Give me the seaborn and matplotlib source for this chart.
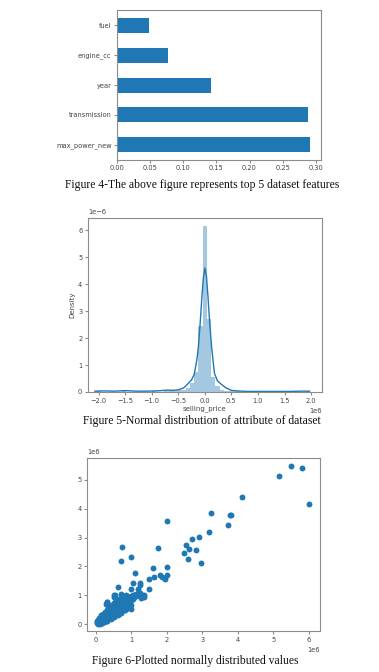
import numpy as np
import pandas as pd
import matplotlib
matplotlib.use("Agg")
import matplotlib.pyplot as plt
import seaborn as sns

# top 5 features (feature importances)
features = ["fuel", "engine_cc", "year", "transmission", "max_power_new"]
importances = [0.048, 0.077, 0.142, 0.289, 0.292]

# selling_price distribution, x in 1e6, density in 1e-6
hist_centers = [-2.0, -1.52, -0.96, -0.72, -0.64, -0.56, -0.48, -0.40, -0.32, -0.24,
                -0.16, -0.08, 0.0, 0.08, 0.16, 0.24, 0.32, 0.40, 0.48, 0.56,
                0.64, 0.96, 1.52, 1.92]
hist_heights = [0.02, 0.02, 0.02, 0.03, 0.03, 0.04, 0.06, 0.08, 0.15, 0.35,
                0.75, 2.45, 6.15, 2.71, 0.55, 0.22, 0.09, 0.05, 0.03, 0.02,
                0.02, 0.01, 0.01, 0.02]
kde_x = [-2.07, -1.9, -1.7, -1.5, -1.3, -1.1, -0.9, -0.7, -0.6, -0.5, -0.4, -0.32,
         -0.25, -0.2, -0.15, -0.12, -0.09, -0.06, -0.03, 0.0, 0.03, 0.06, 0.09,
         0.13, 0.18, 0.24, 0.3, 0.4, 0.5, 0.6, 0.8, 1.0, 1.2, 1.4, 1.6, 1.8, 1.97]
kde_y = [0.03, 0.04, 0.03, 0.05, 0.03, 0.03, 0.04, 0.07, 0.06, 0.08, 0.15, 0.3,
         0.45, 0.65, 1.2, 1.7, 2.5, 3.4, 4.2, 4.6, 4.3, 3.5, 2.6,
         1.6, 0.7, 0.4, 0.3, 0.15, 0.06, 0.04, 0.02, 0.02, 0.02, 0.02, 0.02, 0.03, 0.03]

# actual vs predicted prices, in 1e6
sc_x = [0.03, 0.05, 0.06, 0.08, 0.10, 0.04, 0.07, 0.10, 0.12, 0.13, 0.15, 0.15, 0.17, 0.18,
        0.20, 0.20, 0.22, 0.23, 0.25, 0.25, 0.27, 0.28, 0.30, 0.30, 0.32, 0.33, 0.35, 0.35,
        0.37, 0.38, 0.40, 0.40, 0.42, 0.43, 0.45, 0.45, 0.47, 0.48, 0.50, 0.50, 0.52, 0.53,
        0.55, 0.55, 0.57, 0.58, 0.60, 0.60, 0.62, 0.63, 0.65, 0.65, 0.67, 0.68, 0.70, 0.70,
        0.72, 0.73, 0.75, 0.75, 0.77, 0.78, 0.80, 0.80, 0.82, 0.83, 0.85, 0.85, 0.87, 0.88,
        0.90, 0.90, 0.92, 0.95, 0.95, 0.97, 1.00, 1.00, 1.02, 1.05, 1.05, 1.08, 1.10, 1.12,
        1.15, 1.20, 1.25, 1.30, 1.35,
        0.02, 0.06, 0.09, 0.11, 0.14, 0.16, 0.19, 0.21, 0.24, 0.26, 0.29, 0.31, 0.34, 0.36,
        0.39, 0.41, 0.44, 0.46, 0.49, 0.51, 0.54, 0.56, 0.59, 0.61, 0.64, 0.66, 0.69, 0.71,
        0.74, 0.76, 0.79, 0.81, 0.84, 0.86, 0.89, 0.93, 0.96, 0.99, 1.03, 1.07, 1.12,
        0.10, 0.15, 0.20, 0.25, 0.30, 0.35, 0.40, 0.45, 0.50, 0.55, 0.60, 0.65, 0.70, 0.75,
        0.80, 0.85, 0.18, 0.28, 0.38, 0.48, 0.58, 0.68, 0.78, 0.88, 0.98, 0.25, 0.35, 0.45,
        0.55, 0.65, 0.12, 0.22, 0.32, 0.42, 0.52, 0.62, 0.72, 0.82, 0.92,
        0.30, 0.28, 0.50, 0.55, 0.70, 0.90, 0.98, 0.45, 0.62, 0.75, 0.40, 0.60, 1.18, 1.28,
        5.49, 5.80, 5.16, 6.00, 4.11, 3.25, 3.80, 3.78, 2.00, 3.73, 3.20, 2.71, 2.91, 0.74,
        1.75, 2.55, 2.62, 2.82, 2.47, 2.60, 2.95, 1.00, 0.71, 1.61, 2.00, 1.10, 1.80, 2.00,
        1.86, 1.65, 1.51, 1.94, 0.62, 1.05, 1.24, 1.25, 1.50, 0.98, 1.35, 0.50, 0.32]
sc_y = [0.05, 0.04, 0.08, 0.06, 0.10, 0.12, 0.14, 0.05, 0.09, 0.14, 0.10, 0.18, 0.13, 0.20,
        0.15, 0.25, 0.12, 0.20, 0.17, 0.28, 0.23, 0.32, 0.20, 0.27, 0.35, 0.24, 0.30, 0.40,
        0.27, 0.36, 0.32, 0.45, 0.38, 0.28, 0.42, 0.50, 0.35, 0.46, 0.40, 0.55, 0.48, 0.35,
        0.45, 0.60, 0.52, 0.40, 0.50, 0.65, 0.58, 0.45, 0.55, 0.70, 0.62, 0.50, 0.60, 0.75,
        0.67, 0.55, 0.65, 0.80, 0.72, 0.60, 0.70, 0.85, 0.77, 0.62, 0.75, 0.90, 0.80, 0.68,
        0.78, 0.93, 0.85, 0.80, 0.95, 0.88, 0.85, 0.98, 0.92, 0.88, 1.00, 0.95, 1.02, 0.97,
        1.05, 1.00, 1.08, 1.02, 0.95,
        0.08, 0.02, 0.12, 0.07, 0.16, 0.08, 0.17, 0.20, 0.22, 0.19, 0.25, 0.30, 0.33, 0.34,
        0.40, 0.35, 0.40, 0.45, 0.50, 0.44, 0.52, 0.50, 0.56, 0.60, 0.62, 0.60, 0.68, 0.70,
        0.72, 0.68, 0.78, 0.80, 0.82, 0.85, 0.88, 0.90, 0.92, 0.93, 0.97, 1.02, 1.06,
        0.22, 0.30, 0.36, 0.42, 0.48, 0.55, 0.62, 0.66, 0.72, 0.78, 0.82, 0.86, 0.90, 0.95,
        0.98, 1.00, 0.05, 0.12, 0.20, 0.28, 0.33, 0.40, 0.48, 0.55, 0.65, 0.40, 0.48, 0.58,
        0.68, 0.78, 0.02, 0.06, 0.12, 0.18, 0.25, 0.32, 0.40, 0.48, 0.58,
        0.78, 0.68, 0.95, 1.02, 1.05, 0.55, 0.52, 0.30, 0.38, 0.48, 0.60, 0.85, 1.20, 0.90,
        5.50, 5.41, 5.15, 4.18, 4.40, 3.85, 3.80, 3.77, 3.58, 3.43, 3.19, 2.95, 3.01, 2.66,
        2.65, 2.74, 2.60, 2.56, 2.47, 2.25, 2.11, 2.33, 2.18, 1.94, 1.99, 1.77, 1.72, 1.71,
        1.63, 1.62, 1.56, 1.55, 1.28, 1.41, 1.41, 1.35, 1.22, 1.23, 1.00, 1.00, 0.75]

blue = "#1f77b4"
frame = "#8c8c8c"
txt = "#444444"

plt.rcParams["font.family"] = ["DejaVu Sans"]
plt.rcParams["axes.edgecolor"] = frame
plt.rcParams["axes.linewidth"] = 0.8
plt.rcParams["xtick.color"] = frame
plt.rcParams["ytick.color"] = frame
plt.rcParams["xtick.labelcolor"] = txt
plt.rcParams["ytick.labelcolor"] = txt
plt.rcParams["xtick.labelsize"] = 4.8
plt.rcParams["ytick.labelsize"] = 4.8
plt.rcParams["xtick.major.size"] = 2
plt.rcParams["ytick.major.size"] = 2
plt.rcParams["xtick.major.pad"] = 2
plt.rcParams["ytick.major.pad"] = 2
plt.rcParams["axes.labelsize"] = 5
plt.rcParams["axes.labelcolor"] = txt

fig = plt.figure(figsize=(3.79, 6.72), dpi=100)

# Figure 4 - feature importances
ax1 = fig.add_axes([0.309, 0.762, 0.538, 0.223])
df_feat = pd.DataFrame({"feature": features, "importance": importances})
sns.barplot(data=df_feat, x="importance", y="feature", order=features, orient="h",
            color=blue, saturation=1, width=0.5, ax=ax1)
ax1.set_xlim(0, 0.308)
ax1.set_xticks([0.0, 0.05, 0.10, 0.15, 0.20, 0.25, 0.30])
ax1.set_xticklabels(["0.00", "0.05", "0.10", "0.15", "0.20", "0.25", "0.30"])
ax1.set_xlabel("")
ax1.set_ylabel("")

# Figure 5 - distribution
ax2 = fig.add_axes([0.232, 0.4167, 0.617, 0.259])
sns.histplot(x=np.array(hist_centers) * 1e6, weights=np.array(hist_heights) * 1e-6,
             binwidth=0.08e6, binrange=(-2.04e6, 2.04e6), color=blue, alpha=0.4,
             linewidth=0, ax=ax2)
sns.lineplot(x=np.array(kde_x) * 1e6, y=np.array(kde_y) * 1e-6, color=blue, lw=1, ax=ax2)
ax2.set_xlim(-2.2e6, 2.2e6)
ax2.set_ylim(0, 6.46e-6)
ax2.set_xticks(np.arange(-2.0, 2.01, 0.5) * 1e6)
ax2.set_xlabel("selling_price", labelpad=1)
ax2.set_ylabel("Density", labelpad=2)
ax2.xaxis.get_offset_text().set_fontsize(4.8)
ax2.yaxis.get_offset_text().set_fontsize(4.8)

# Figure 6 - scatter
ax3 = fig.add_axes([0.2296, 0.061, 0.615, 0.2574])
sns.scatterplot(x=np.array(sc_x) * 1e6, y=np.array(sc_y) * 1e6, color=blue, s=18,
                linewidth=0, ax=ax3)
ax3.set_xlim(-0.25e6, 6.32e6)
ax3.set_ylim(-0.24e6, 5.76e6)
ax3.xaxis.get_offset_text().set_fontsize(4.8)
ax3.yaxis.get_offset_text().set_fontsize(4.8)

for ax in (ax1, ax2, ax3):
    for s in ax.spines.values():
        s.set_visible(True)
        s.set_color(frame)

cap = dict(ha="center", va="center", fontsize=8.4, family=["Liberation Serif"], color="#111111")
fig.text(0.533, 1 - 185 / 672, "Figure 4-The above figure represents top 5 dataset features", **cap)
fig.text(0.533, 1 - 421 / 672, "Figure 5-Normal distribution of attribute of dataset", **cap)
fig.text(0.515, 1 - 661 / 672, "Figure 6-Plotted normally distributed values", **cap)

fig.savefig("out.png", dpi=100)
